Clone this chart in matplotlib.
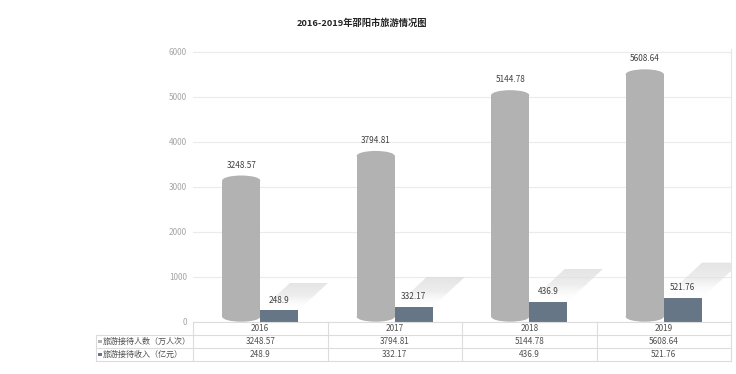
import matplotlib
matplotlib.use("Agg")
import matplotlib.pyplot as plt
from matplotlib.patches import Ellipse, Polygon, Rectangle
from matplotlib.colors import LinearSegmentedColormap
import numpy as np

plt.rcParams['font.family'] = ['Noto Sans CJK SC', 'DejaVu Sans']

title = "2016-2019年邵阳市旅游情况图"
years = ["2016", "2017", "2018", "2019"]
visitors = [3248.57, 3794.81, 5144.78, 5608.64]      # 旅游接待人数（万人次）
income = [248.9, 332.17, 436.9, 521.76]               # 旅游接待收入（亿元）
series_names = ["旅游接待人数（万人次）", "旅游接待收入（亿元）"]
yticks = [0, 1000, 2000, 3000, 4000, 5000, 6000]

C_GRAY = "#b1b2b1"
C_DARK = "#677686"
C_LINE = "#dcdcdc"
C_TEXT = "#505050"

W, H = 736, 374
fig = plt.figure(figsize=(W / 100, H / 100), dpi=100)

def fx(px):
    return px / W

def fy(py):
    return 1 - py / H

# pixel geometry
x_left, x_right = 193, 731
y_zero = 321.7
px_per_unit = 0.045
ymax = 6050
y_top = y_zero - ymax * px_per_unit

ax = fig.add_axes([fx(x_left), fy(y_zero), fx(x_right - x_left), (y_zero - y_top) / H])
ax.set_xlim(-0.5, len(years) - 0.5)
ax.set_ylim(0, ymax)
ax.set_yticks(yticks)
ax.set_yticklabels([str(t) for t in yticks], fontsize=5.9, color="#a6a6a6")
ax.tick_params(axis="y", length=0, pad=4.3)
ax.set_xticks([])
for s in ["top", "left", "bottom"]:
    ax.spines[s].set_visible(False)
ax.spines["right"].set_color("#e6e6e6")
ax.spines["right"].set_linewidth(0.8)
ax.grid(axis="y", color="#ebebeb", linewidth=0.8)
ax.set_axisbelow(True)

xs = np.arange(len(years))
bw = 0.283
cap = 5.0 / px_per_unit  # cap half height in data units

# soft shadows cast up-right from the dark bars
shadow_cmap = LinearSegmentedColormap.from_list(
    "sh", [(1, 1, 1, 0.0), (0.88, 0.88, 0.88, 0.55), (0.86, 0.86, 0.86, 0.75)])
grad = np.linspace(0, 1, 64).reshape(-1, 1)
for x, v in zip(xs, income):
    dy = 450 + 0.65 * v
    sdx = dy * 0.00036
    top = v + dy
    pts = [(x, v), (x + bw, v), (x + bw + sdx, top), (x + sdx, top)]
    poly = Polygon(pts, closed=True, facecolor="none", edgecolor="none")
    ax.add_patch(poly)
    im = ax.imshow(grad, cmap=shadow_cmap, vmin=0, vmax=1, origin="lower",
                   extent=(x, x + bw + sdx, v, top), aspect="auto",
                   interpolation="bilinear", zorder=1.5)
    im.set_clip_path(poly)
ax.set_xlim(-0.5, len(years) - 0.5)
ax.set_ylim(0, ymax)

# cylinders (gray)
ax.bar(xs - bw / 2, [v - 2 * cap for v in visitors], bottom=cap, width=bw,
       color=C_GRAY, zorder=3, linewidth=0)
for x, v in zip(xs, visitors):
    ax.add_patch(Ellipse((x - bw / 2, v - cap), bw, 2 * cap, facecolor=C_GRAY,
                         edgecolor="none", zorder=3))
    ax.add_patch(Ellipse((x - bw / 2, cap), bw, 2 * cap, facecolor=C_GRAY,
                         edgecolor="none", zorder=3))

# dark bars
ax.bar(xs + bw / 2, income, width=bw, color=C_DARK, zorder=3, linewidth=0)

# data labels
for x, v in zip(xs, visitors):
    ax.annotate(f"{v:g}", (x - bw / 2, v), xytext=(0, 7.5), textcoords="offset points",
                ha="center", va="center", fontsize=5.9, color="#404040", zorder=5)
for x, v in zip(xs, income):
    ax.annotate(f"{v:g}", (x + bw / 2, v), xytext=(0, 7.5), textcoords="offset points",
                ha="center", va="center", fontsize=5.9, color="#404040", zorder=5)

# title
fig.text(fx(362), fy(23), title, ha="center", va="center", fontsize=6.7,
         fontweight="bold", color="#222222")

# data table
t_top, t_bot = 321.7, 360.5
tab = fig.add_axes([fx(x_left), fy(t_bot), fx(x_right - x_left), (t_bot - t_top) / H])
tab.set_xlim(-0.5, len(years) - 0.5)
tab.set_ylim(3, 0)
tab.axis("off")
cat_px = (x_right - x_left) / len(years)
xl = -0.5 - (x_left - 96) / cat_px
lk = dict(color=C_LINE, linewidth=0.8, clip_on=False)
tab.plot([-0.5, len(years) - 0.5], [0, 0], **lk)
for r in [1, 2, 3]:
    tab.plot([xl, len(years) - 0.5], [r, r], **lk)
for c in np.arange(-0.5, len(years), 1.0):
    tab.plot([c, c], [0, 3], **lk)
tab.plot([xl, xl], [1, 3], **lk)

for i, yv in enumerate(years):
    tab.text(i, 0.5, yv, ha="center", va="center", fontsize=5.9, color=C_TEXT)
for i, v in enumerate(visitors):
    tab.text(i, 1.5, f"{v:g}", ha="center", va="center", fontsize=5.9, color=C_TEXT)
for i, v in enumerate(income):
    tab.text(i, 2.5, f"{v:g}", ha="center", va="center", fontsize=5.9, color=C_TEXT)

for r, (name, col) in enumerate(zip(series_names, [C_GRAY, C_DARK])):
    ycen = 335 + 12.9 * r + 6.4
    fig.patches.append(Rectangle((fx(98.3), fy(ycen + 1.7)), fx(3.4), 3.4 / H,
                                 transform=fig.transFigure, facecolor=col,
                                 edgecolor="none"))
    fig.text(fx(102.5), fy(ycen), name, ha="left", va="center", fontsize=5.8,
             color=C_TEXT)

fig.savefig("out.png", dpi=100)
